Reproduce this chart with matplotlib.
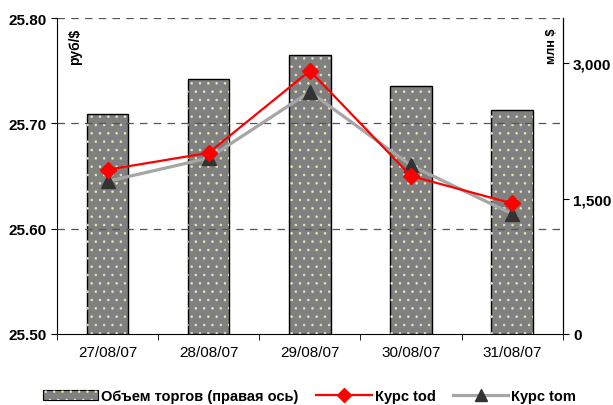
import matplotlib.pyplot as plt
import numpy as np
from matplotlib.lines import Line2D
from matplotlib.patches import Patch
from matplotlib.legend_handler import HandlerTuple

plt.rcParams['font.family'] = ['Liberation Sans', 'DejaVu Sans']
plt.rcParams['hatch.linewidth'] = 0.6

# data
dates = ['27/08/07', '28/08/07', '29/08/07', '30/08/07', '31/08/07']
volume = [2433, 2822, 3089, 2744, 2478]          # млн $, right axis
kurs_tod = [25.656, 25.672, 25.750, 25.650, 25.624]
kurs_tom = [25.645, 25.667, 25.730, 25.660, 25.614]

x = np.arange(len(dates))

fig = plt.figure(figsize=(6.13, 4.06), dpi=100)
ax = fig.add_axes([0.093, 0.175, 0.825, 0.778])
ax2 = ax.twinx()

# bars on right axis, drawn behind the lines
ax2.bar(x, volume, width=0.41, color='#808080', edgecolor='black', linewidth=1.0, zorder=1)
ax2.bar(x, volume, width=0.41, color='none', edgecolor='#E6E6B4', hatch='..', linewidth=0, zorder=2)
ax2.set_ylim(0, 3500)
ax2.set_yticks([0, 1500, 3000])
ax2.set_yticklabels(['0', '1,500', '3,000'])

ax.set_zorder(ax2.get_zorder() + 1)
ax.patch.set_visible(False)

ax.plot(x, kurs_tom, color='#A6A6A6', lw=2.3, marker='^', ms=10,
        mfc='#333333', mec='#333333', zorder=5)
ax.plot(x, kurs_tod, color='#FF0000', lw=1.6, marker='D', ms=8,
        mfc='#FF0000', mec='#FF0000', zorder=6)

ax.set_ylim(25.50, 25.80)
ax.set_yticks([25.50, 25.60, 25.70, 25.80])
ax.set_yticklabels(['25.50', '25.60', '25.70', '25.80'])
ax.set_xlim(-0.5, 4.5)
for yv in [25.60, 25.70, 25.80]:
    ax.axhline(yv, color='#555555', lw=0.9, dashes=(6, 5), zorder=0)

ax.set_xticks(x)
ax.set_xticklabels(dates, fontsize=11)
ax.set_xticks(np.arange(-0.5, 5, 1), minor=True)
ax.tick_params(axis='x', which='major', length=0, pad=8)
ax.tick_params(axis='x', which='minor', length=4, direction='out')
ax.tick_params(axis='y', length=4, labelsize=11)
for lab in ax.get_yticklabels():
    lab.set_fontweight('bold')
ax2.tick_params(axis='y', length=4, labelsize=11)
for lab in ax2.get_yticklabels():
    lab.set_fontweight('bold')

ax.spines['top'].set_visible(False)
ax2.spines['top'].set_visible(False)
ax2.spines['left'].set_visible(False)
ax2.spines['bottom'].set_visible(False)

ax.text(0.035, 0.97, 'руб/$', transform=ax.transAxes, rotation=90,
        ha='center', va='top', fontsize=10, fontweight='bold')
ax2.text(0.978, 0.97, 'млн $', transform=ax.transAxes, rotation=90,
         ha='center', va='top', fontsize=9, fontweight='bold')

bar_handle = (Patch(facecolor='#808080', edgecolor='black', linewidth=0.8),
              Patch(facecolor='none', edgecolor='#E6E6B4', hatch='..', linewidth=0))
handles = [
    bar_handle,
    Line2D([], [], color='#FF0000', lw=1.6, marker='D', ms=7, mfc='#FF0000', mec='#FF0000'),
    Line2D([], [], color='#A6A6A6', lw=2.3, marker='^', ms=9, mfc='#333333', mec='#333333'),
]
labels = ['Объем торгов (правая ось)', 'Курс tod', 'Курс tom']
fig.legend(handles, labels, loc='center', bbox_to_anchor=(0.505, 0.022), ncol=3,
           frameon=False, prop={'weight': 'bold', 'size': 10.5},
           handlelength=3.8, handletextpad=0.2, columnspacing=1.2,
           handler_map={tuple: HandlerTuple(ndivide=1, pad=0)})

fig.savefig('out.png', dpi=100)
